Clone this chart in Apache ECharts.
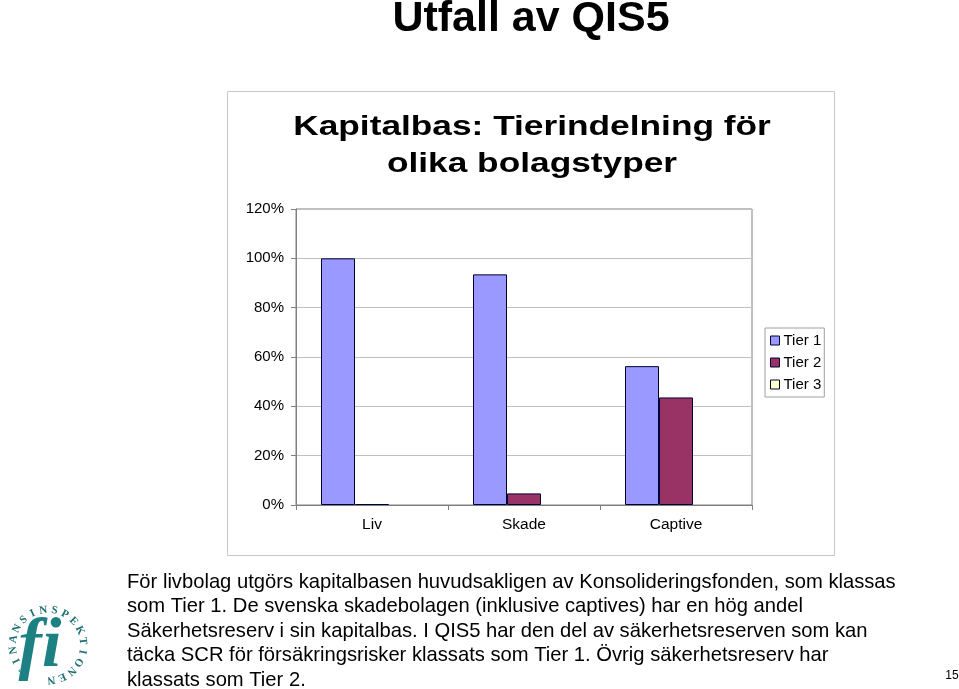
<!DOCTYPE html>
<html><head><meta charset="utf-8">
<script src="https://cdn.jsdelivr.net/npm/echarts@6/dist/echarts.min.js"></script>
<style>html,body{margin:0;padding:0;background:#fff}#c{width:959px;height:689px}</style>
</head><body><div id="c"></div>
<script>
const categories = ['Liv', 'Skade', 'Captive'];
const seriesNames = ['Tier 1', 'Tier 2', 'Tier 3'];
const tier1 = [100, 93.5, 56.3];
const tier2 = [0.4, 4.7, 43.6];
const tier3 = [0, 0, 0];
const yTicks = [0, 20, 40, 60, 80, 100, 120];
const slideTitle = 'Utfall av QIS5';
const chartTitle = ['Kapitalbas: Tierindelning för', 'olika bolagstyper'];
const bodyLines = [
  'För livbolag utgörs kapitalbasen huvudsakligen av Konsolideringsfonden, som klassas',
  'som Tier 1. De svenska skadebolagen (inklusive captives) har en hög andel',
  'Säkerhetsreserv i sin kapitalbas. I QIS5 har den del av säkerhetsreserven som kan',
  'täcka SCR för försäkringsrisker klassats som Tier 1. Övrig säkerhetsreserv har',
  'klassats som Tier 2.'
];
const logoText = 'FINANSINSPEKTIONEN';
const pageNo = '15';

const FONT = '"Liberation Sans", Arial, sans-serif';
const colors = ['#9999FF', '#993366', '#FFFFCC'];
const chart = echarts.init(document.getElementById('c'));

const graphics = [];
graphics.push({type:'rect', z:-1, shape:{x:227.5, y:91.5, width:607, height:464}, style:{fill:'#fff', stroke:'#c8c8c8', lineWidth:1}});
graphics.push({type:'text', x:531, y:19, style:{text:slideTitle, font:'bold 43px '+FONT, fill:'#000', textAlign:'center', textVerticalAlign:'middle'}});
chartTitle.forEach((t,i)=>graphics.push({type:'text', x:532, y:127+i*37.5, scaleX:1.26, style:{text:t, font:'bold 28px '+FONT, fill:'#000', textAlign:'center', textVerticalAlign:'middle'}}));
bodyLines.forEach((t,i)=>graphics.push({type:'text', x:127, y:582+i*24.5, style:{text:t, font:'20.2px '+FONT, fill:'#000', textAlign:'left', textVerticalAlign:'middle'}}));
graphics.push({type:'text', x:952, y:676, style:{text:pageNo, font:'12px '+FONT, fill:'#000', textAlign:'center', textVerticalAlign:'middle'}});
// logo
const cx = 48, cy = 645, r = 35;
const startA = 225, step = 18.2;
for (let i=0;i<logoText.length;i++){
  const a = (startA + i*step) * Math.PI/180;
  graphics.push({type:'text', x: cx + r*Math.sin(a), y: cy - r*Math.cos(a), rotation: -a,
    style:{text:logoText[i], font:'bold 11px "Liberation Serif", serif', fill:'#1d6f73', textAlign:'center', textVerticalAlign:'middle'}});
}
graphics.push({type:'text', x:40, y:648, style:{text:'fi', font:'italic bold 70px "Liberation Serif", serif', fill:'#1d8082', textAlign:'center', textVerticalAlign:'middle'}});

chart.setOption({
  animation:false,
  backgroundColor:'#fff',
  graphic: graphics,
  grid:{left:296, top:209, width:456, height:296, show:true, borderColor:'#808080', borderWidth:1, backgroundColor:'#fff'},
  legend:{orient:'vertical', left:765, top:328, itemWidth:9, itemHeight:9, itemGap:7, icon:'rect',
    borderColor:'#a0a0a0', borderWidth:1, padding:[5,3,5,5],
    textStyle:{fontFamily:FONT, fontSize:15, color:'#000', padding:[0,0,0,-1]},
    data: seriesNames.map((n,i)=>({name:n, itemStyle:{color:colors[i], borderColor:'#000033', borderWidth:1}}))},
  xAxis:{type:'category', data:categories, boundaryGap:true,
    axisLine:{lineStyle:{color:'#808080'}}, axisTick:{show:true, alignWithLabel:false, length:5, lineStyle:{color:'#808080'}},
    axisLabel:{fontFamily:FONT, fontSize:15.5, color:'#000', margin:12}},
  yAxis:{type:'value', min:yTicks[0], max:yTicks[yTicks.length-1], interval:20,
    axisLine:{show:true, lineStyle:{color:'#808080'}}, axisTick:{show:true, length:5, lineStyle:{color:'#808080'}},
    splitLine:{lineStyle:{color:'#c0c0c0'}},
    axisLabel:{fontFamily:FONT, fontSize:15, color:'#000', margin:12, formatter:'{value}%'}},
  series:[tier1,tier2,tier3].map((d,i)=>({
    name:seriesNames[i], type:'bar', data:d, barWidth:34, barGap:'0%',
    itemStyle:{color:colors[i], borderColor:'#000033', borderWidth: i===2?0:1}
  }))
});
</script></body></html>
